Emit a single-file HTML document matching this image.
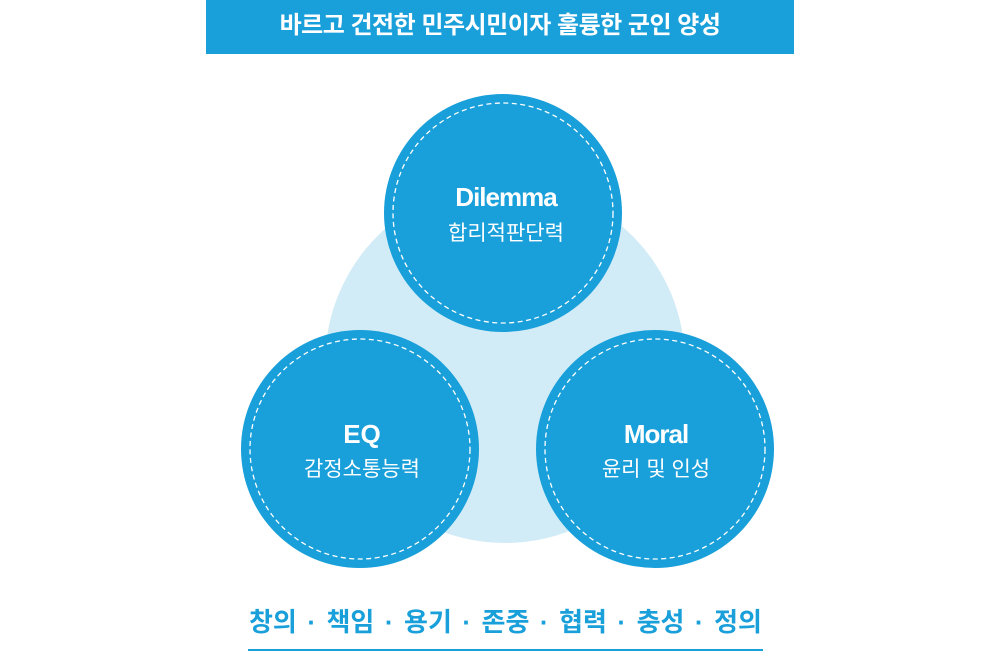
<!DOCTYPE html>
<html><head><meta charset="utf-8"><style>
html,body{margin:0;padding:0;background:#fff;}
body{width:1000px;height:653px;overflow:hidden;position:relative;font-family:"Liberation Sans","Noto Sans CJK KR",sans-serif;}
.banner{position:absolute;left:206px;top:0;width:588px;height:54px;background:#199fd9;color:#fff;font-weight:bold;font-size:24px;line-height:52px;text-align:center;letter-spacing:-0.5px;}
svg{position:absolute;left:0;top:0;}
.bottom{position:absolute;left:249px;top:600px;width:513px;display:flex;justify-content:space-between;color:#199fd9;font-weight:bold;font-size:26px;line-height:44px;white-space:nowrap;}
.line{position:absolute;left:248px;top:649px;width:515px;height:2px;background:#199fd9;}
</style></head><body>
<div class="banner">바르고 건전한 민주시민이자 훌륭한 군인 양성</div>
<svg width="1000" height="653" font-family="Liberation Sans, Noto Sans CJK KR, sans-serif">
<circle cx="505" cy="363" r="180" fill="#d2ecf7"/>
<g fill="#199fd9">
<circle cx="503" cy="213" r="119"/>
<circle cx="360" cy="449" r="119"/>
<circle cx="655" cy="449" r="119"/>
</g>
<g fill="none" stroke="#fff" stroke-width="1.3" stroke-dasharray="5 3.5">
<circle cx="503" cy="213" r="110"/>
<circle cx="360" cy="449" r="110"/>
<circle cx="655" cy="449" r="110"/>
</g>
<g fill="#fff" text-anchor="middle">
<text x="506" y="206" font-size="26" font-weight="bold" letter-spacing="-1">Dilemma</text>
<text x="506" y="240" font-size="21">합리적판단력</text>
<text x="362" y="443" font-size="26" font-weight="bold">EQ</text>
<text x="362" y="476" font-size="21">감정소통능력</text>
<text x="656" y="443" font-size="26" font-weight="bold" letter-spacing="-1">Moral</text>
<text x="656" y="476" font-size="21">윤리 및 인성</text>
</g>
</svg>
<div class="bottom"><span>창의</span><span>·</span><span>책임</span><span>·</span><span>용기</span><span>·</span><span>존중</span><span>·</span><span>협력</span><span>·</span><span>충성</span><span>·</span><span>정의</span></div>
<div class="line"></div>
</body></html>
